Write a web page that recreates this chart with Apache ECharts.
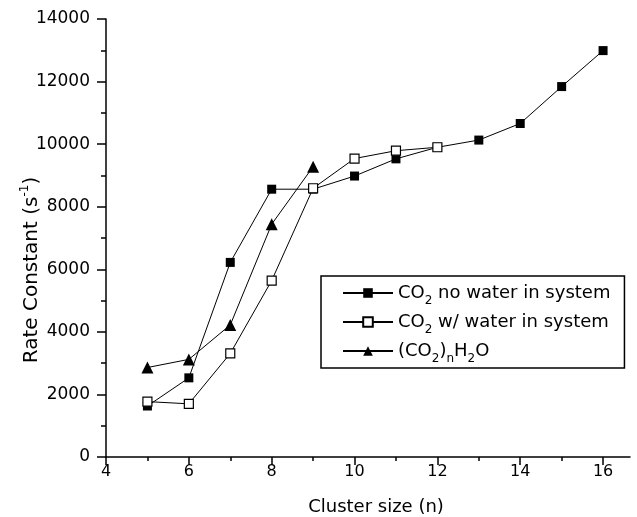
<!DOCTYPE html>
<html><head><meta charset="utf-8">
<script src="https://cdn.jsdelivr.net/npm/echarts@6/dist/echarts.min.js"></script>
<style>html,body{margin:0;padding:0;background:#fff}#c{width:637px;height:517px}</style>
</head><body><div id="c"></div>
<script>
// Data
const clusterNoWater = [5, 6, 7, 8, 9, 10, 11, 12, 13, 14, 15, 16];
const rateNoWater = [1630, 2530, 6220, 8560, 8560, 8980, 9530, 9900, 10130, 10660, 11840, 12990];
const clusterWithWater = [5, 6, 7, 8, 9, 10, 11, 12];
const rateWithWater = [1770, 1700, 3310, 5640, 8590, 9540, 9790, 9900];
const clusterH2O = [5, 6, 7, 8, 9];
const rateH2O = [2860, 3120, 4220, 7440, 9280];
const xMajorTicks = [4, 6, 8, 10, 12, 14, 16];
const xMinorTicks = [5, 7, 9, 11, 13, 15];
const seriesNames = ['CO2 no water in system', 'CO2 w/ water in system', '(CO2)nH2O'];
const legendRich = {
  'CO2 no water in system': '{m|CO}{s|2}{m| no water in system}',
  'CO2 w/ water in system': '{m|CO}{s|2}{m| w/ water in system}',
  '(CO2)nH2O': '{m|(CO}{s|2}{m|)}{s|n}{m|H}{s|2}{m|O}'
};

const FONT = 'DejaVu Sans';
const pairs = (xs, ys) => xs.map((x, i) => [x, ys[i]]);

const chart = echarts.init(document.getElementById('c'));
chart.setOption({
  animation: false,
  backgroundColor: '#fff',
  grid: { left: 106, right: 7, top: 19, bottom: 60, containLabel: false, outerBoundsMode: 'none' },
  xAxis: [{
    type: 'value', min: 4, max: 16.65, position: 'bottom',
    name: 'Cluster size (n)', nameLocation: 'middle', nameGap: 41,
    nameTextStyle: { fontFamily: FONT, fontSize: 18, color: '#000', padding: [0, 0, 0, 16] },
    axisLine: { show: true, lineStyle: { color: '#000', width: 1.5 } },
    axisTick: { show: true, customValues: xMajorTicks, length: 8, lineStyle: { color: '#000', width: 1.5 } },
    axisLabel: { customValues: xMajorTicks, margin: 7, fontFamily: FONT, fontSize: 16, color: '#000' },
    splitLine: { show: false }
  }, {
    type: 'value', min: 4, max: 16.65, position: 'bottom',
    axisLine: { show: false },
    axisTick: { show: true, customValues: xMinorTicks, length: 4, lineStyle: { color: '#000', width: 1.5 } },
    axisLabel: { show: false },
    splitLine: { show: false }
  }],
  yAxis: {
    type: 'value', min: 0, max: 14000, interval: 2000,
    name: '{m|Rate Constant (s}{p|-1}{m|)}', nameLocation: 'middle', nameGap: 61, nameRotate: 90,
    nameMoveOverlap: false,
    nameTextStyle: {
      padding: [0, 64, 0, 0],
      rich: {
        m: { fontFamily: FONT, fontSize: 20, color: '#000', lineHeight: 26 },
        p: { fontFamily: FONT, fontSize: 12, color: '#000', lineHeight: 12, verticalAlign: 'top' }
      }
    },
    axisLine: { show: true, lineStyle: { color: '#000', width: 1.5 } },
    axisTick: { show: true, length: 9, lineStyle: { color: '#000', width: 1.5 } },
    minorTick: { show: true, splitNumber: 2, length: 5, lineStyle: { color: '#000', width: 1.5 } },
    axisLabel: { margin: 16, fontFamily: FONT, fontSize: 17, color: '#000', formatter: v => String(v) },
    splitLine: { show: false }
  },
  legend: {
    orient: 'vertical', left: 321, top: 276,
    data: seriesNames,
    backgroundColor: '#fff',
    borderColor: '#000', borderWidth: 1.5, borderRadius: 0,
    padding: [8, 14, 3, 21],
    itemWidth: 50, itemHeight: 12, itemGap: 6,
    formatter: n => legendRich[n],
    textStyle: {
      rich: {
        m: { fontFamily: FONT, fontSize: 18, color: '#000', lineHeight: 28 },
        s: { fontFamily: FONT, fontSize: 12, color: '#000', lineHeight: 12, verticalAlign: 'bottom' }
      }
    }
  },
  series: [{
    name: seriesNames[0], type: 'line', xAxisIndex: 0,
    data: pairs(clusterNoWater, rateNoWater),
    symbol: 'rect', symbolSize: 9,
    itemStyle: { color: '#000', borderColor: '#000', borderWidth: 0 },
    lineStyle: { color: '#000', width: 1 }
  }, {
    name: seriesNames[1], type: 'line', xAxisIndex: 0,
    data: pairs(clusterWithWater, rateWithWater),
    symbol: 'rect', symbolSize: 9,
    itemStyle: { color: '#fff', borderColor: '#000', borderWidth: 1.2 },
    lineStyle: { color: '#000', width: 1 }
  }, {
    name: seriesNames[2], type: 'line', xAxisIndex: 0,
    data: pairs(clusterH2O, rateH2O),
    symbol: 'triangle', symbolSize: 12,
    itemStyle: { color: '#000', borderColor: '#000', borderWidth: 0 },
    lineStyle: { color: '#000', width: 1 }
  }]
});
</script>
</body></html>
